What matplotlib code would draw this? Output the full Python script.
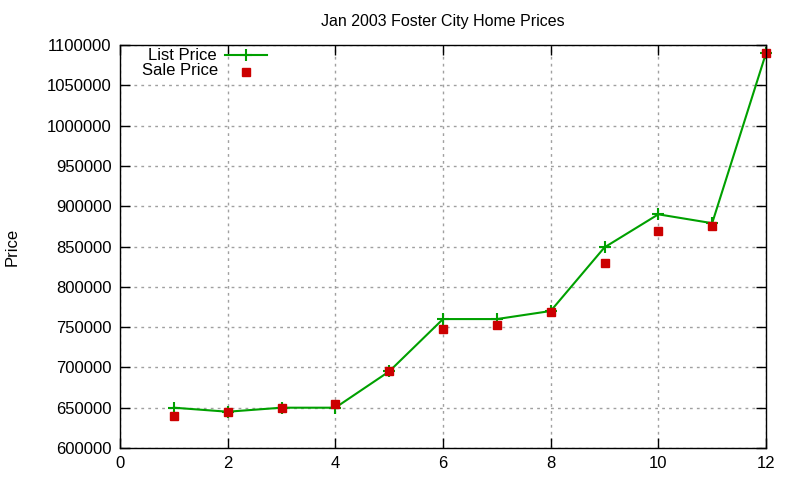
import matplotlib.pyplot as plt
from matplotlib.lines import Line2D
from matplotlib.ticker import ScalarFormatter

plt.rcParams['font.family'] = ['Liberation Sans', 'DejaVu Sans']

# data
house = [1, 2, 3, 4, 5, 6, 7, 8, 9, 10, 11, 12]
list_price = [650000, 645000, 650000, 650000, 695000, 760000,
              760000, 770000, 849000, 890000, 879000, 1090000]
sale_price = [640000, 645000, 650000, 655000, 695000, 748000,
              753000, 769000, 830000, 869000, 876000, 1090000]

green = '#00a000'
red = '#cc0000'

fig = plt.figure(figsize=(8, 4.8), dpi=100)
ax = fig.add_axes([0.15, 0.0667, 0.8075, 0.8393])

ax.plot(house, list_price, color=green, lw=1.5, marker='+', ms=8, mew=1.5, clip_on=False)
ax.plot(house, sale_price, ls='none', marker='s', ms=6, color=red, clip_on=False)

ax.set_xlim(0, 12)
ax.set_ylim(600000, 1100000)
ax.set_xticks(range(0, 13, 2))
ax.set_yticks(range(600000, 1100001, 50000))
fmt = ScalarFormatter(useOffset=False)
fmt.set_scientific(False)
ax.yaxis.set_major_formatter(fmt)
ax.tick_params(direction='in', top=True, right=True, labelsize=12, length=7, width=1, pad=6)
ax.grid(True, color='#a0a0a0', linestyle=(0, (2, 3)), lw=1)
for s in ax.spines.values():
    s.set_linewidth(1)

ax.set_title('Jan 2003 Foster City Home Prices', fontsize=11.5, pad=14)
ax.set_ylabel('Price', fontsize=12)
ax.yaxis.set_label_coords(-0.156, 0.5)

# gnuplot style key: right aligned text, sample to the right
ax.text(0.15, 0.975, 'List Price', transform=ax.transAxes, ha='right', va='center', fontsize=12)
ax.text(0.152, 0.936, 'Sale Price', transform=ax.transAxes, ha='right', va='center', fontsize=12)
ax.add_line(Line2D([0.163, 0.228], [0.975, 0.975], transform=ax.transAxes,
                   color=green, lw=1.5))
ax.add_line(Line2D([0.195], [0.975], transform=ax.transAxes, color=green,
                   marker='+', ms=8, mew=1.5))
ax.add_line(Line2D([0.195], [0.934], transform=ax.transAxes, color=red,
                   marker='s', ms=6, ls='none'))

fig.savefig('out.png', dpi=100)
